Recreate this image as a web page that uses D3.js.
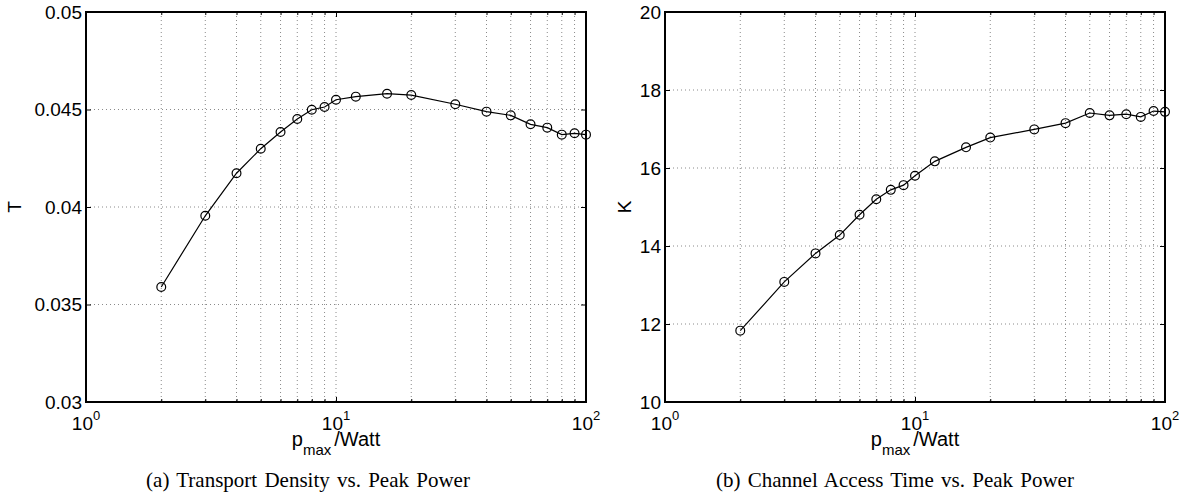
<html>
<head>
<style>
  body { margin: 0; background: #fff; }
  text { font-family: "Liberation Sans", Arial, sans-serif; fill: #000; }
  .caption { font-family: "Liberation Serif", "Times New Roman", serif; }
</style>
</head>
<body>
<script src="https://cdn.jsdelivr.net/npm/d3@7/dist/d3.min.js"></script>

<div id="container1"></div>

<script>

// data
const powerW = [2, 3, 4, 5, 6, 7, 8, 9, 10, 12, 16, 20, 30, 40, 50, 60, 70, 80, 90, 100];
const densityT = [0.0359, 0.03955, 0.04173, 0.04299, 0.04385, 0.04451, 0.04499, 0.04513, 0.0455, 0.04566,
                  0.04581, 0.04574, 0.04527, 0.04489, 0.0447, 0.04424, 0.04407, 0.04371, 0.04378, 0.04371];
const accessK = [11.83, 13.08, 13.81, 14.28, 14.8, 15.2, 15.44, 15.56, 15.8, 16.17,
                 16.53, 16.78, 16.99, 17.15, 17.41, 17.35, 17.38, 17.31, 17.46, 17.44];
const tTicks = [0.03, 0.035, 0.04, 0.045, 0.05];
const tLabels = ["0.03", "0.035", "0.04", "0.045", "0.05"];
const kTicks = [10, 12, 14, 16, 18, 20];
const kLabels = ["10", "12", "14", "16", "18", "20"];
const decades = [1, 10, 100];
const decadeExp = ["0", "1", "2"];
const minorW = [2, 3, 4, 5, 6, 7, 8, 9, 20, 30, 40, 50, 60, 70, 80, 90];

const svg = d3.select("#container1")
  .append("svg")
    .attr("width", 1186)
    .attr("height", 497);

function drawPanel(opt) {
  const left = opt.left, top = 12, width = 500, height = 390;
  const g = svg.append("g").attr("transform", `translate(${left},${top})`);

  const x = d3.scaleLog().domain([1, 100]).range([0, width]);
  const y = d3.scaleLinear().domain([opt.yTicks[0], opt.yTicks[opt.yTicks.length - 1]]).range([height, 0]);

  // grid
  g.selectAll(".vgrid")
    .data(minorW.concat([10]))
    .join("line")
      .attr("x1", d => x(d)).attr("x2", d => x(d))
      .attr("y1", 0).attr("y2", height)
      .style("stroke", "#8a8a8a")
      .style("stroke-dasharray", "1,3");
  g.selectAll(".hgrid")
    .data(opt.yTicks.slice(1, -1))
    .join("line")
      .attr("x1", 0).attr("x2", width)
      .attr("y1", d => y(d)).attr("y2", d => y(d))
      .style("stroke", "#8a8a8a")
      .style("stroke-dasharray", "1,3");

  // inward ticks
  const xb = d3.axisBottom(x).tickValues(decades).tickSize(-5).tickFormat("");
  const xt = d3.axisTop(x).tickValues(decades).tickSize(-5).tickFormat("");
  const xbm = d3.axisBottom(x).tickValues(minorW).tickSize(-3).tickFormat("");
  const xtm = d3.axisTop(x).tickValues(minorW).tickSize(-3).tickFormat("");
  g.append("g").attr("transform", `translate(0,${height})`).call(xb);
  g.append("g").attr("transform", `translate(0,${height})`).call(xbm);
  g.append("g").call(xt);
  g.append("g").call(xtm);
  g.append("g").call(d3.axisLeft(y).tickValues(opt.yTicks).tickSize(-5).tickFormat(""));
  g.append("g").attr("transform", `translate(${width},0)`)
    .call(d3.axisRight(y).tickValues(opt.yTicks).tickSize(-5).tickFormat(""));
  g.selectAll(".domain").remove();
  g.selectAll(".tick line").style("stroke", "#000");

  // box
  g.append("rect")
    .attr("width", width).attr("height", height)
    .style("fill", "none").style("stroke", "#000").style("stroke-width", 2);

  // y tick labels
  g.selectAll(".ylab")
    .data(opt.yTicks)
    .join("text")
      .attr("x", -4)
      .attr("y", d => y(d))
      .attr("dy", "0.36em")
      .attr("text-anchor", "end")
      .style("font-size", "19px")
      .text((d, i) => opt.yLabels[i]);

  // x tick labels 10^n
  const xl = g.selectAll(".xlab")
    .data(decades)
    .join("text")
      .attr("x", d => x(d))
      .attr("y", height + 28)
      .attr("text-anchor", "middle")
      .style("font-size", "19px");
  xl.append("tspan").text("10");
  xl.append("tspan").attr("dy", -10).style("font-size", "13px").text((d, i) => decadeExp[i]);

  // axis label
  const al = g.append("text")
    .attr("x", width / 2)
    .attr("y", height + 44)
    .attr("text-anchor", "middle")
    .style("font-size", "20px");
  al.append("tspan").text("p");
  al.append("tspan").attr("dy", 9).style("font-size", "15px").text("max");
  al.append("tspan").attr("dy", -9).attr("dx", 3).text("/Watt");

  g.append("text")
    .attr("transform", `translate(${opt.yLabelX},${height / 2}) rotate(-90)`)
    .attr("text-anchor", "middle")
    .attr("dy", "0.36em")
    .style("font-size", "19px")
    .text(opt.yName);

  // caption
  g.append("text")
    .attr("class", "caption")
    .attr("x", opt.captionX - left)
    .attr("y", 475)
    .attr("text-anchor", "middle")
    .style("font-size", "21px")
    .style("word-spacing", "2px")
    .text(opt.caption);

  // curve
  const line = d3.line().x(d => x(d[0])).y(d => y(d[1]));
  const pts = powerW.map((p, i) => [p, opt.values[i]]);
  g.append("path")
    .datum(pts)
    .attr("d", line)
    .style("fill", "none").style("stroke", "#000").style("stroke-width", 1.2);
  g.selectAll(".mark")
    .data(pts)
    .join("circle")
      .attr("cx", d => x(d[0]))
      .attr("cy", d => y(d[1]))
      .attr("r", 4.4)
      .style("fill", "none").style("stroke", "#000").style("stroke-width", 1.2);
}

drawPanel({left: 86, yTicks: tTicks, yLabels: tLabels, values: densityT, yName: "T", yLabelX: -72,
           caption: "(a) Transport Density vs. Peak Power", captionX: 308});
drawPanel({left: 665, yTicks: kTicks, yLabels: kLabels, values: accessK, yName: "K", yLabelX: -41,
           caption: "(b) Channel Access Time vs. Peak Power", captionX: 895});

</script>
</body>
</html>
